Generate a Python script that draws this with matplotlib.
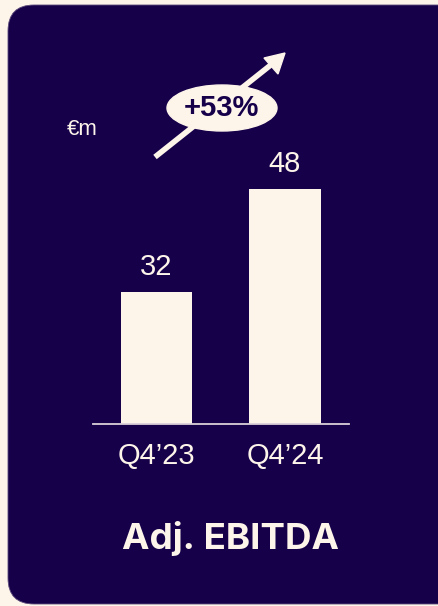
import matplotlib
matplotlib.use('Agg')
import matplotlib.pyplot as plt
from matplotlib.patches import FancyBboxPatch, Ellipse, Polygon

# data
quarters = ['Q4\u201923', 'Q4\u201924']
ebitda = [32, 48]
growth_label = '+53%'
unit_label = '\u20acm'
title = 'Adj. EBITDA'

navy = '#16004a'
cream = '#fdf4ea'

W, H = 438, 606
fig = plt.figure(figsize=(W / 100, H / 100), dpi=100)
fig.patch.set_facecolor(cream)

# background layer in pixel coordinates
bg = fig.add_axes([0, 0, 1, 1])
bg.set_xlim(0, W)
bg.set_ylim(H, 0)
bg.axis('off')
bg.add_patch(FancyBboxPatch((8, 5), 460, 599, boxstyle='round,pad=0,rounding_size=26',
                            facecolor=navy, edgecolor='#5a4a7a', linewidth=0.6))

# growth arrow + badge
bg.plot([155, 272], [157, 64], color=cream, linewidth=4, solid_capstyle='butt')
bg.add_patch(Polygon([(285, 53), (264, 58), (278, 74)], closed=True, color=cream))
bg.add_patch(Ellipse((222, 108), 110, 46, color=cream))
bg.text(221, 108, growth_label, ha='center', va='center', color=navy,
        fontsize=21, fontweight='bold', family='Liberation Sans')
bg.text(67, 135, unit_label, ha='left', va='baseline', color=cream,
        fontsize=16, family='Liberation Sans')
bg.text(230, 549, title, ha='center', va='baseline', color=cream,
        fontsize=26.5, fontweight='bold', family='Inter')

# bar chart
ax = fig.add_axes([93 / W, 1 - 424 / H, 256 / W, 324 / H])
ax.patch.set_alpha(0)
x = [0, 1]
bars = ax.bar(x, ebitda, width=0.56, color=cream, bottom=0)
ax.set_xlim(-0.494, 1.498)
ax.set_ylim(11.5, 61.8)
for b, v in zip(bars, ebitda):
    ax.annotate(str(v), (b.get_x() + b.get_width() / 2, v), xytext=(0, 8),
                textcoords='offset points', ha='center', va='bottom',
                color=cream, fontsize=21, family='Liberation Sans')
for s in ['left', 'right', 'top']:
    ax.spines[s].set_visible(False)
ax.spines['bottom'].set_color('#d8d0d8')
ax.spines['bottom'].set_linewidth(1.3)
ax.set_yticks([])
ax.set_xticks(x)
ax.set_xticklabels(quarters, color=cream, fontsize=21, family='Liberation Sans')
ax.tick_params(axis='x', length=0, pad=13)

fig.savefig('out.png', dpi=100, facecolor=cream)
